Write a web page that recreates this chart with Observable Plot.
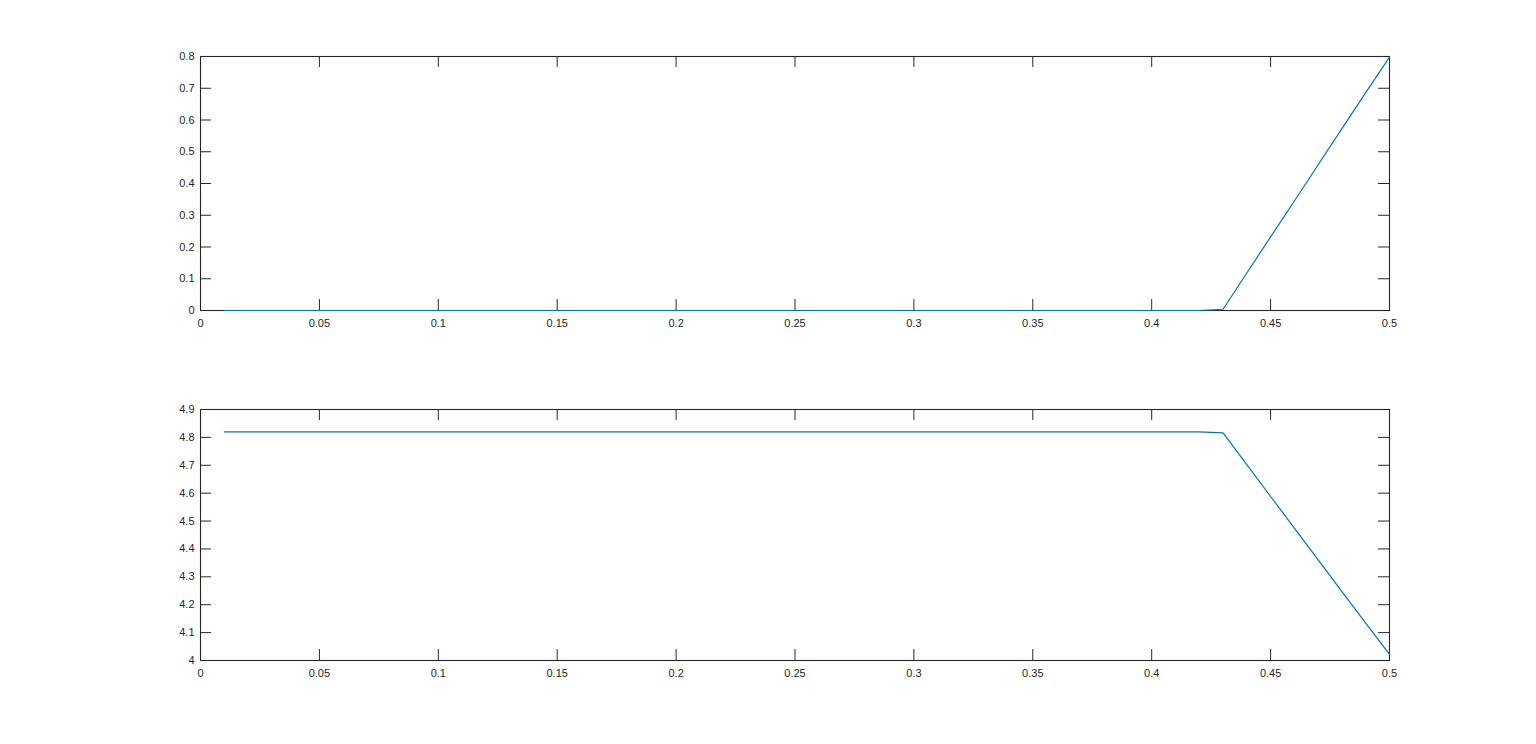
<!DOCTYPE html>
<html>
<head>
<meta charset="utf-8">
<script src="https://cdn.jsdelivr.net/npm/d3@7"></script>
<script src="https://cdn.jsdelivr.net/npm/@observablehq/plot@0.6"></script>
<style>
  html, body { margin: 0; padding: 0; background: #fff; overflow: hidden; }
  #chart svg { display: block; }
</style>
</head>
<body>
<div id="chart"></div>
<script>
// ---- data ----
const xValues = [0.01,0.02,0.03,0.04,0.05,0.06,0.07,0.08,0.09,0.10,
                 0.11,0.12,0.13,0.14,0.15,0.16,0.17,0.18,0.19,0.20,
                 0.21,0.22,0.23,0.24,0.25,0.26,0.27,0.28,0.29,0.30,
                 0.31,0.32,0.33,0.34,0.35,0.36,0.37,0.38,0.39,0.40,
                 0.41,0.42,0.43,0.44,0.45,0.46,0.47,0.48,0.49,0.50];
const topValues = [0,0,0,0,0,0,0,0,0,0,
                   0,0,0,0,0,0,0,0,0,0,
                   0,0,0,0,0,0,0,0,0,0,
                   0,0,0,0,0,0,0,0,0,0,
                   0,0,0.004,0.118,0.232,0.345,0.459,0.573,0.686,0.798];
const bottomValues = [4.82,4.82,4.82,4.82,4.82,4.82,4.82,4.82,4.82,4.82,
                      4.82,4.82,4.82,4.82,4.82,4.82,4.82,4.82,4.82,4.82,
                      4.82,4.82,4.82,4.82,4.82,4.82,4.82,4.82,4.82,4.82,
                      4.82,4.82,4.82,4.82,4.82,4.82,4.82,4.82,4.82,4.82,
                      4.82,4.82,4.816,4.702,4.588,4.475,4.361,4.247,4.134,4.022];
const xTicks = [0,0.05,0.1,0.15,0.2,0.25,0.3,0.35,0.4,0.45,0.5];
const xTickLabels = ["0","0.05","0.1","0.15","0.2","0.25","0.3","0.35","0.4","0.45","0.5"];
const topYTicks = [0,0.1,0.2,0.3,0.4,0.5,0.6,0.7,0.8];
const topYTickLabels = ["0","0.1","0.2","0.3","0.4","0.5","0.6","0.7","0.8"];
const bottomYTicks = [4,4.1,4.2,4.3,4.4,4.5,4.6,4.7,4.8,4.9];
const bottomYTickLabels = ["4","4.1","4.2","4.3","4.4","4.5","4.6","4.7","4.8","4.9"];

// ---- layout ----
const W = 1536;
const ink = "#262626";
const lineColor = "#0072BD";
const tickLen = 11;

function subplot({values, yDomain, yTicks, yLabels, height, mt, mb}) {
  const ml = 200, mr = 147;
  const innerW = W - ml - mr;
  const innerH = height - mt - mb;
  const data = xValues.map((x, i) => ({x, y: values[i]}));
  const xl = new Map(xTicks.map((t, i) => [t, xTickLabels[i]]));
  const yl = new Map(yTicks.map((t, i) => [t, yLabels[i]]));
  return Plot.plot({
    width: W, height,
    marginLeft: ml, marginRight: mr, marginTop: mt, marginBottom: mb,
    style: {fontFamily: "'Liberation Sans', Arial, Helvetica, sans-serif", fontSize: "11px", color: ink, background: "#fff", overflow: "visible"},
    x: {domain: [0, 0.5], label: null},
    y: {domain: yDomain, label: null},
    marks: [
      Plot.axisX({ticks: xTicks, tickSize: 0, tickPadding: 9, tickFormat: d => xl.get(d), fill: ink, label: null}),
      Plot.axisY({ticks: yTicks, tickSize: 0, tickPadding: 6, tickFormat: d => yl.get(d), fill: ink, label: null}),
      // inward ticks on all four sides (box on)
      Plot.tickX(xTicks, {x: d => d, insetTop: innerH - tickLen, stroke: ink, strokeWidth: 1}),
      Plot.tickX(xTicks, {x: d => d, insetBottom: innerH - tickLen, stroke: ink, strokeWidth: 1}),
      Plot.tickY(yTicks, {y: d => d, insetRight: innerW - tickLen, stroke: ink, strokeWidth: 1}),
      Plot.tickY(yTicks, {y: d => d, insetLeft: innerW - tickLen, stroke: ink, strokeWidth: 1}),
      Plot.frame({stroke: ink, strokeWidth: 1.1}),
      Plot.line(data, {x: "x", y: "y", stroke: lineColor, strokeWidth: 1.2})
    ]
  });
}

const chart = document.getElementById("chart");
chart.append(subplot({values: topValues, yDomain: [0, 0.8], yTicks: topYTicks, yLabels: topYTickLabels, height: 372, mt: 56, mb: 62}));
chart.append(subplot({values: bottomValues, yDomain: [4, 4.9], yTicks: bottomYTicks, yLabels: bottomYTickLabels, height: 372, mt: 37, mb: 84}));
</script>
</body>
</html>
